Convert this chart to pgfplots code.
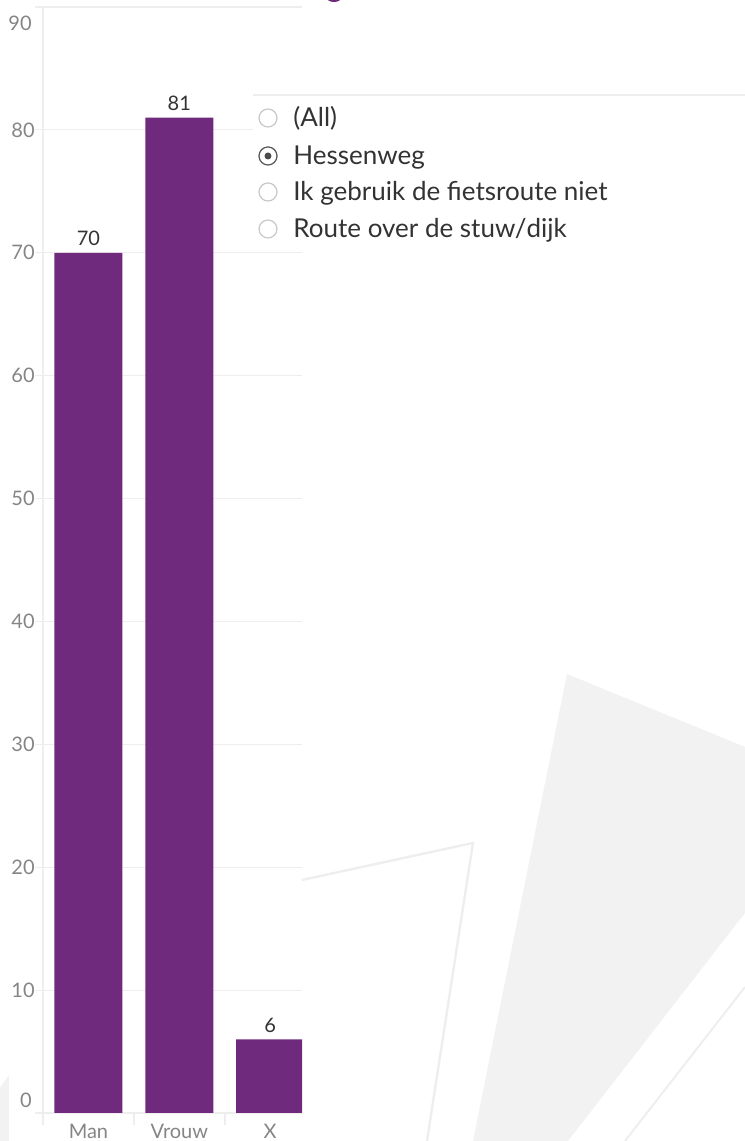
\documentclass[border=0pt]{standalone}
\usepackage{pgfplots}
\pgfplotsset{compat=1.18}
\usepackage{fontspec}
\setmainfont{Lato}
\definecolor{barc}{HTML}{6F2A7E}
\definecolor{gridc}{HTML}{EEEEEE}
\definecolor{tickc}{HTML}{858585}
\definecolor{txtc}{HTML}{333333}
\definecolor{bgc}{HTML}{F2F2F2}
\definecolor{radioc}{HTML}{C8C8C8}
\newcommand\tickfont{\fontsize{10bp}{12bp}\selectfont}
\newcommand\radiofont{\fontsize{13bp}{15bp}\selectfont}
\begin{document}
\begin{tikzpicture}
\path[use as bounding box] (0,0) rectangle (372.5bp,570.5bp);
% background, in pixel coordinates of the reference
\begin{scope}[yshift=570.5bp, x=0.5bp, y=-0.5bp]
  \fill[bgc] (567,674) -- (745,747) -- (745,913) -- (568,1141) -- (473,1141) -- cycle;
  \fill[bgc] (0,1088) -- (9,1075) -- (9,1141) -- (0,1141) -- cycle;
  \draw[gridc, line width=1.2bp] (302,880) -- (473,843) -- (427,1141);
  \draw[gridc, line width=1bp] (745,987) -- (625,1141);
  \fill[barc] (334,-2) ellipse (7 and 4);
\end{scope}

\begin{axis}[
  at={(21.5bp,14bp)},
  scale only axis, width=129.5bp, height=553bp,
  xmin=-0.5, xmax=2.35, ymin=0, ymax=90,
  ybar, bar width=34bp, bar shift=0pt,
  axis line style={draw=none},
  xtick={0,1,2}, xticklabels={Man,Vrouw,X},
  xtick style={draw=none}, xtick pos=bottom,
  xticklabel style={yshift=2bp},
  ytick={0,10,...,90}, yticklabels={,10,20,30,40,50,60,70,80,},
  ytick pos=left,
  ymajorgrids, grid style={gridc, line width=0.6bp},
  ytick style={gridc, line width=0.6bp},
  tick align=outside, major tick length=4bp,
  ticklabel style={font=\tickfont, text=tickc},
  yticklabel style={inner xsep=0pt},
  /pgf/number format/assume math mode=true,
  clip mode=individual,
  nodes near coords,
  nodes near coords style={font=\tickfont, text=txtc},
]
\addplot[fill=barc, draw=none] coordinates {(0,70) (1,81) (2,6)};
\end{axis}

\begin{scope}[yshift=570.5bp, x=0.5bp, y=-0.5bp]
  % axis line and category separators
  \draw[gridc, line width=0.6bp] (43,7) -- (43,1125);
  \draw[gridc, line width=0.6bp] (134,1113) -- (134,1125);
  \draw[gridc, line width=0.6bp] (225,1113) -- (225,1125);
  % end tick labels, set inside the axis range
  \node[anchor=east, inner sep=0pt, text=tickc, font=\tickfont] at (32,1100) {0};
  \node[anchor=east, inner sep=0pt, text=tickc, font=\tickfont] at (32,23) {90};
  % filter panel
  \fill[white] (253,96) rectangle (745,248);
  \draw[gridc, line width=0.6bp] (253,95) -- (745,95);
  \foreach \yy/\lab in {118/(All), 156/Hessenweg, 192/Ik gebruik de fietsroute niet, 229/Route over de stuw\slash dijk} {
    \draw[radioc, line width=0.6bp, fill=white] (268,\yy) circle (9);
    \node[anchor=base west, inner sep=0pt, text=txtc, font=\radiofont] at (293,\yy+9) {\lab};
  }
  \draw[black!65, line width=0.6bp, fill=white] (268,156) circle (9);
  \fill[black!70] (268,156) circle (3.5);
\end{scope}
\end{tikzpicture}
\end{document}
